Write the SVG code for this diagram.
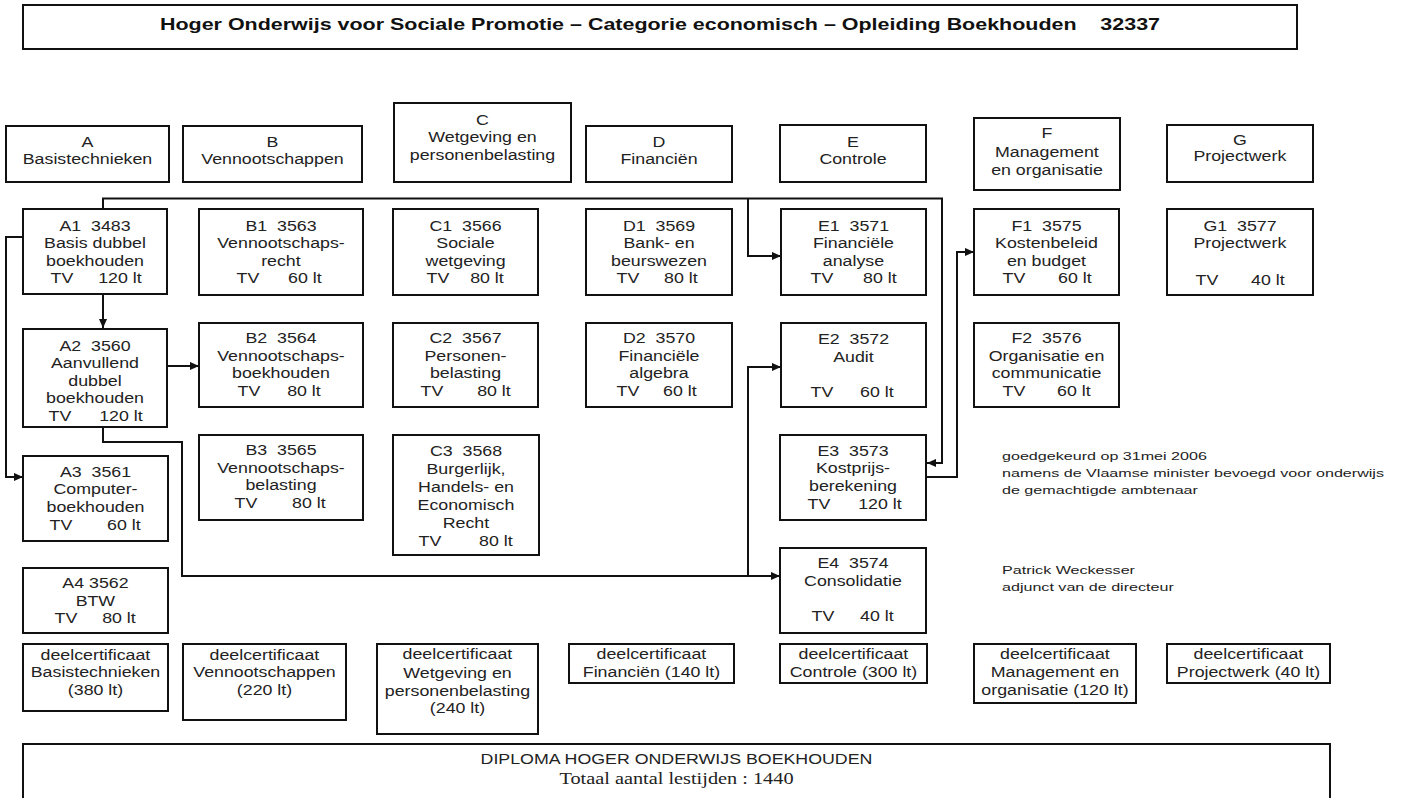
<svg xmlns="http://www.w3.org/2000/svg" width="1403" height="798" viewBox="0 0 1403 798">
<style>
  .bx { fill: #fff; stroke: #111; stroke-width: 2; }
  .t { font-family: "Liberation Sans", Arial, sans-serif; font-size: 14px; fill: #222; text-anchor: middle; transform-box: fill-box; transform-origin: center; transform: scaleX(1.27); }
  .nt { font-family: "Liberation Sans", Arial, sans-serif; font-size: 11.5px; fill: #222; transform-box: fill-box; transform-origin: left center; transform: scaleX(1.4); }
  .ser { font-family: "Liberation Serif", "Times New Roman", serif; font-size: 16px; fill: #222; text-anchor: middle; transform-box: fill-box; transform-origin: center; transform: scaleX(1.27); }
  .ttl { font-family: "Liberation Sans", Arial, sans-serif; font-size: 17px; font-weight: bold; fill: #111; text-anchor: middle; }
  .cn { fill: none; stroke: #111; stroke-width: 2; }
</style>
<defs>
  <marker id="ah" viewBox="0 0 10 10" refX="10" refY="5" markerWidth="9" markerHeight="9" markerUnits="userSpaceOnUse" orient="auto">
    <path d="M0,0.5 L10,5 L0,9.5 z" fill="#111"/>
  </marker>
</defs>
<rect width="1403" height="798" fill="#fff"/>

<g id="title">
  <rect class="bx" x="23" y="5" width="1274" height="44"/>
  <text class="ttl" x="660" y="30" textLength="1000" lengthAdjust="spacingAndGlyphs">Hoger Onderwijs voor Sociale Promotie – Categorie economisch – Opleiding Boekhouden&#160;&#160;&#160; 32337</text>
</g>

<!-- Connectors -->
<g id="connectors">
  <path class="cn" d="M103,294 V328" marker-end="url(#ah)"/>
  <path class="cn" d="M167,366 H199" marker-end="url(#ah)"/>
  <path class="cn" d="M23,237 H6 V477 H23" marker-end="url(#ah)"/>
  <path class="cn" d="M103,209 V198.5 H942 V463 H927" marker-end="url(#ah)"/>
  <path class="cn" d="M748,198.5 V256 H781" marker-end="url(#ah)"/>
  <path class="cn" d="M103,427 V442 H182 V576 H780" marker-end="url(#ah)"/>
  <path class="cn" d="M748,576 V367 H781" marker-end="url(#ah)"/>
  <path class="cn" d="M926,477 H957 V252 H974" marker-end="url(#ah)"/>
</g>

<!-- Headers -->
<g id="hA"><rect class="bx" x="6" y="126" width="163" height="56"/>
  <text class="t" x="87.5" y="147">A</text><text class="t" x="87.5" y="164">Basistechnieken</text></g>
<g id="hB"><rect class="bx" x="183" y="126" width="179" height="56"/>
  <text class="t" x="272.5" y="147">B</text><text class="t" x="272.5" y="164">Vennootschappen</text></g>
<g id="hC"><rect class="bx" x="394" y="103" width="177" height="79"/>
  <text class="t" x="482.5" y="125">C</text><text class="t" x="482.5" y="142">Wetgeving en</text><text class="t" x="482.5" y="160">personenbelasting</text></g>
<g id="hD"><rect class="bx" x="586" y="126" width="146" height="56"/>
  <text class="t" x="659" y="147">D</text><text class="t" x="659" y="164">Financiën</text></g>
<g id="hE"><rect class="bx" x="780" y="125" width="146" height="57"/>
  <text class="t" x="853" y="147">E</text><text class="t" x="853" y="164">Controle</text></g>
<g id="hF"><rect class="bx" x="974" y="118" width="146" height="72"/>
  <text class="t" x="1047" y="138">F</text><text class="t" x="1047" y="157">Management</text><text class="t" x="1047" y="175">en organisatie</text></g>
<g id="hG"><rect class="bx" x="1167" y="125" width="146" height="57"/>
  <text class="t" x="1240" y="145">G</text><text class="t" x="1240" y="161">Projectwerk</text></g>

<!-- Row 1 -->
<g id="A1"><rect class="bx" x="23" y="209" width="144" height="85"/>
  <text class="t" x="95" y="231">A1&#160;&#160;3483</text><text class="t" x="95" y="248">Basis dubbel</text><text class="t" x="95" y="266">boekhouden</text>
  <text class="t" x="62" y="283">TV</text><text class="t" x="120" y="283">120 lt</text></g>
<g id="B1"><rect class="bx" x="199" y="209" width="164" height="86"/>
  <text class="t" x="281" y="231">B1&#160;&#160;3563</text><text class="t" x="281" y="248">Vennootschaps-</text><text class="t" x="281" y="266">recht</text>
  <text class="t" x="248" y="283">TV</text><text class="t" x="305" y="283">60 lt</text></g>
<g id="C1"><rect class="bx" x="393" y="209" width="145" height="86"/>
  <text class="t" x="465.5" y="231">C1&#160;&#160;3566</text><text class="t" x="465.5" y="248">Sociale</text><text class="t" x="465.5" y="266">wetgeving</text>
  <text class="t" x="438" y="283">TV</text><text class="t" x="487" y="283">80 lt</text></g>
<g id="D1"><rect class="bx" x="586" y="209" width="146" height="86"/>
  <text class="t" x="659" y="231">D1&#160;&#160;3569</text><text class="t" x="659" y="248">Bank- en</text><text class="t" x="659" y="266">beurswezen</text>
  <text class="t" x="628" y="283">TV</text><text class="t" x="681" y="283">80 lt</text></g>
<g id="E1"><rect class="bx" x="781" y="209" width="145" height="86"/>
  <text class="t" x="853.5" y="231">E1&#160;&#160;3571</text><text class="t" x="853.5" y="248">Financiële</text><text class="t" x="853.5" y="266">analyse</text>
  <text class="t" x="822" y="283">TV</text><text class="t" x="880" y="283">80 lt</text></g>
<g id="F1"><rect class="bx" x="974" y="209" width="145" height="86"/>
  <text class="t" x="1046.5" y="231">F1&#160;&#160;3575</text><text class="t" x="1046.5" y="248">Kostenbeleid</text><text class="t" x="1046.5" y="266">en budget</text>
  <text class="t" x="1014" y="283">TV</text><text class="t" x="1075" y="283">60 lt</text></g>
<g id="G1"><rect class="bx" x="1167" y="209" width="146" height="86"/>
  <text class="t" x="1240" y="231">G1&#160;&#160;3577</text><text class="t" x="1240" y="248">Projectwerk</text>
  <text class="t" x="1207" y="285">TV</text><text class="t" x="1268" y="285">40 lt</text></g>

<!-- Row 2 -->
<g id="A2"><rect class="bx" x="23" y="329" width="144" height="98"/>
  <text class="t" x="95" y="351">A2&#160;&#160;3560</text><text class="t" x="95" y="368">Aanvullend</text><text class="t" x="95" y="386">dubbel</text><text class="t" x="95" y="403">boekhouden</text>
  <text class="t" x="60" y="421">TV</text><text class="t" x="121" y="421">120 lt</text></g>
<g id="B2"><rect class="bx" x="199" y="323" width="164" height="84"/>
  <text class="t" x="281" y="343">B2&#160;&#160;3564</text><text class="t" x="281" y="361">Vennootschaps-</text><text class="t" x="281" y="378">boekhouden</text>
  <text class="t" x="249" y="396">TV</text><text class="t" x="304" y="396">80 lt</text></g>
<g id="C2"><rect class="bx" x="393" y="323" width="145" height="84"/>
  <text class="t" x="465.5" y="343">C2&#160;&#160;3567</text><text class="t" x="465.5" y="361">Personen-</text><text class="t" x="465.5" y="378">belasting</text>
  <text class="t" x="432" y="396">TV</text><text class="t" x="494" y="396">80 lt</text></g>
<g id="D2"><rect class="bx" x="586" y="323" width="146" height="84"/>
  <text class="t" x="659" y="343">D2&#160;&#160;3570</text><text class="t" x="659" y="361">Financiële</text><text class="t" x="659" y="378">algebra</text>
  <text class="t" x="628" y="396">TV</text><text class="t" x="680" y="396">60 lt</text></g>
<g id="E2"><rect class="bx" x="781" y="323" width="145" height="84"/>
  <text class="t" x="853.5" y="344">E2&#160;&#160;3572</text><text class="t" x="853.5" y="362">Audit</text>
  <text class="t" x="822" y="397">TV</text><text class="t" x="877" y="397">60 lt</text></g>
<g id="F2"><rect class="bx" x="974" y="323" width="145" height="84"/>
  <text class="t" x="1046.5" y="343">F2&#160;&#160;3576</text><text class="t" x="1046.5" y="361">Organisatie en</text><text class="t" x="1046.5" y="378">communicatie</text>
  <text class="t" x="1014" y="396">TV</text><text class="t" x="1074" y="396">60 lt</text></g>

<!-- Row 3 -->
<g id="A3"><rect class="bx" x="23" y="456" width="145" height="85"/>
  <text class="t" x="95.5" y="477">A3&#160;&#160;3561</text><text class="t" x="95.5" y="494">Computer-</text><text class="t" x="95.5" y="512">boekhouden</text>
  <text class="t" x="61" y="530">TV</text><text class="t" x="124" y="530">60 lt</text></g>
<g id="B3"><rect class="bx" x="199" y="435" width="164" height="85"/>
  <text class="t" x="281" y="455">B3&#160;&#160;3565</text><text class="t" x="281" y="473">Vennootschaps-</text><text class="t" x="281" y="490">belasting</text>
  <text class="t" x="246" y="508">TV</text><text class="t" x="309" y="508">80 lt</text></g>
<g id="C3"><rect class="bx" x="393" y="435" width="146" height="120"/>
  <text class="t" x="466" y="456">C3&#160;&#160;3568</text><text class="t" x="466" y="474">Burgerlijk,</text><text class="t" x="466" y="492">Handels- en</text><text class="t" x="466" y="510">Economisch</text><text class="t" x="466" y="528">Recht</text>
  <text class="t" x="430" y="546">TV</text><text class="t" x="496" y="546">80 lt</text></g>
<g id="E3"><rect class="bx" x="780" y="435" width="146" height="85"/>
  <text class="t" x="853" y="456">E3&#160;&#160;3573</text><text class="t" x="853" y="473.5">Kostprijs-</text><text class="t" x="853" y="491">berekening</text>
  <text class="t" x="819" y="509">TV</text><text class="t" x="880" y="509">120 lt</text></g>

<!-- Row 4 -->
<g id="A4"><rect class="bx" x="23" y="568" width="145" height="65"/>
  <text class="t" x="95.5" y="588">A4 3562</text><text class="t" x="95.5" y="606">BTW</text>
  <text class="t" x="66" y="623">TV</text><text class="t" x="119" y="623">80 lt</text></g>
<g id="E4"><rect class="bx" x="780" y="548" width="146" height="85"/>
  <text class="t" x="853" y="568">E4&#160;&#160;3574</text><text class="t" x="853" y="586">Consolidatie</text>
  <text class="t" x="823" y="621">TV</text><text class="t" x="877" y="621">40 lt</text></g>

<!-- Notes -->
<g id="notes">
  <text class="nt" x="1002" y="460">goedgekeurd op 31mei 2006</text>
  <text class="nt" x="1002" y="477">namens de Vlaamse minister bevoegd voor onderwijs</text>
  <text class="nt" x="1002" y="494">de gemachtigde ambtenaar</text>
  <text class="nt" x="1002" y="574">Patrick Weckesser</text>
  <text class="nt" x="1002" y="591">adjunct van de directeur</text>
</g>

<!-- Deelcertificaten -->
<g id="cA"><rect class="bx" x="23" y="644" width="145" height="67"/>
  <text class="t" x="95.5" y="660">deelcertificaat</text><text class="t" x="95.5" y="677">Basistechnieken</text><text class="t" x="95.5" y="695">(380 lt)</text></g>
<g id="cB"><rect class="bx" x="183" y="644" width="163" height="76"/>
  <text class="t" x="264.5" y="660">deelcertificaat</text><text class="t" x="264.5" y="677">Vennootschappen</text><text class="t" x="264.5" y="695">(220 lt)</text></g>
<g id="cC"><rect class="bx" x="377" y="644" width="161" height="90"/>
  <text class="t" x="457.5" y="659">deelcertificaat</text><text class="t" x="457.5" y="678">Wetgeving en</text><text class="t" x="457.5" y="696">personenbelasting</text><text class="t" x="457.5" y="713">(240 lt)</text></g>
<g id="cD"><rect class="bx" x="569" y="644" width="165" height="39"/>
  <text class="t" x="651.5" y="659">deelcertificaat</text><text class="t" x="651.5" y="677">Financiën (140 lt)</text></g>
<g id="cE"><rect class="bx" x="780" y="644" width="147" height="39"/>
  <text class="t" x="853.5" y="659">deelcertificaat</text><text class="t" x="853.5" y="677">Controle (300 lt)</text></g>
<g id="cF"><rect class="bx" x="974" y="644" width="162" height="59"/>
  <text class="t" x="1055" y="659">deelcertificaat</text><text class="t" x="1055" y="677">Management en</text><text class="t" x="1055" y="695">organisatie (120 lt)</text></g>
<g id="cG"><rect class="bx" x="1167" y="644" width="163" height="39"/>
  <text class="t" x="1248.5" y="659">deelcertificaat</text><text class="t" x="1248.5" y="677">Projectwerk (40 lt)</text></g>

<g id="diploma"><rect class="bx" x="23" y="744" width="1307" height="70"/>
  <text class="t" x="676.5" y="764">DIPLOMA HOGER ONDERWIJS BOEKHOUDEN</text>
  <text class="ser" x="676.5" y="784">Totaal aantal lestijden : 1440</text></g>
</svg>
